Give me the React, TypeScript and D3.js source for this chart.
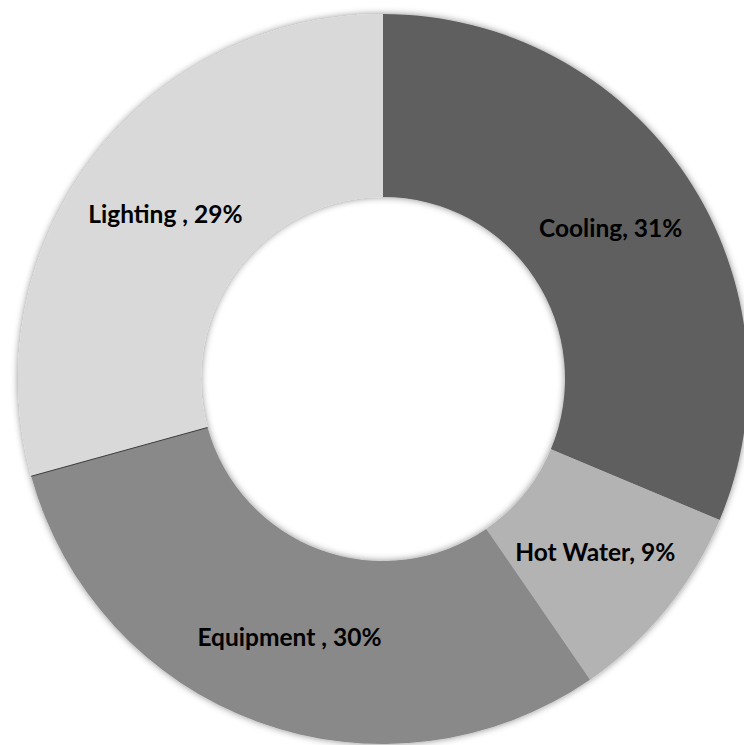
import React from "react";
import * as d3 from "d3";

// Energy end-use shares (percent)
const categories = ["Cooling", "Hot Water", "Equipment ", "Lighting "];
const shares = [31, 9, 30, 29];
const colors = ["#5f5f5f", "#b3b3b3", "#898989", "#d9d9d9"];

const WIDTH = 744;
const HEIGHT = 745;
const CX = 383;
const CY = 379;
const OUTER = 365;
const INNER = 182;

export default function App() {
  const pie = d3
    .pie<number>()
    .sort(null)
    .value((d) => d);
  const arcs = pie(shares);
  const arc = d3.arc<d3.PieArcDatum<number>>().innerRadius(INNER).outerRadius(OUTER);
  const labelArc = d3
    .arc<d3.PieArcDatum<number>>()
    .innerRadius((INNER + OUTER) / 2)
    .outerRadius((INNER + OUTER) / 2);

  // thin seam between Equipment and Lighting
  const seamAngle = arcs[3].startAngle;
  const seam = {
    x1: Math.sin(seamAngle) * INNER,
    y1: -Math.cos(seamAngle) * INNER,
    x2: Math.sin(seamAngle) * OUTER,
    y2: -Math.cos(seamAngle) * OUTER,
  };

  return (
    <svg
      width={WIDTH}
      height={HEIGHT}
      style={{ position: "absolute", left: 0, top: 0, background: "#ffffff" }}
    >
      <defs>
        <filter id="softShadow" x="-10%" y="-10%" width="120%" height="120%">
          <feDropShadow dx="0" dy="0" stdDeviation="3.5" floodColor="#000" floodOpacity="0.45" />
        </filter>
      </defs>
      <g transform={`translate(${CX},${CY})`}>
        <g filter="url(#softShadow)">
          {arcs.map((a, i) => (
            <path key={categories[i]} d={arc(a) ?? ""} fill={colors[i]} />
          ))}
        </g>
        <line
          x1={seam.x1}
          y1={seam.y1}
          x2={seam.x2}
          y2={seam.y2}
          stroke="#3a3a3a"
          strokeWidth={1}
        />
        {arcs.map((a, i) => {
          const [x, y] = labelArc.centroid(a);
          return (
            <text
              key={categories[i]}
              x={x}
              y={y}
              textAnchor="middle"
              dominantBaseline="central"
              fontFamily="Lato, 'Open Sans', sans-serif"
              fontWeight={700}
              fontSize={24.5}
              fill="#000"
            >
              {`${categories[i]}, ${shares[i]}%`}
            </text>
          );
        })}
      </g>
    </svg>
  );
}
